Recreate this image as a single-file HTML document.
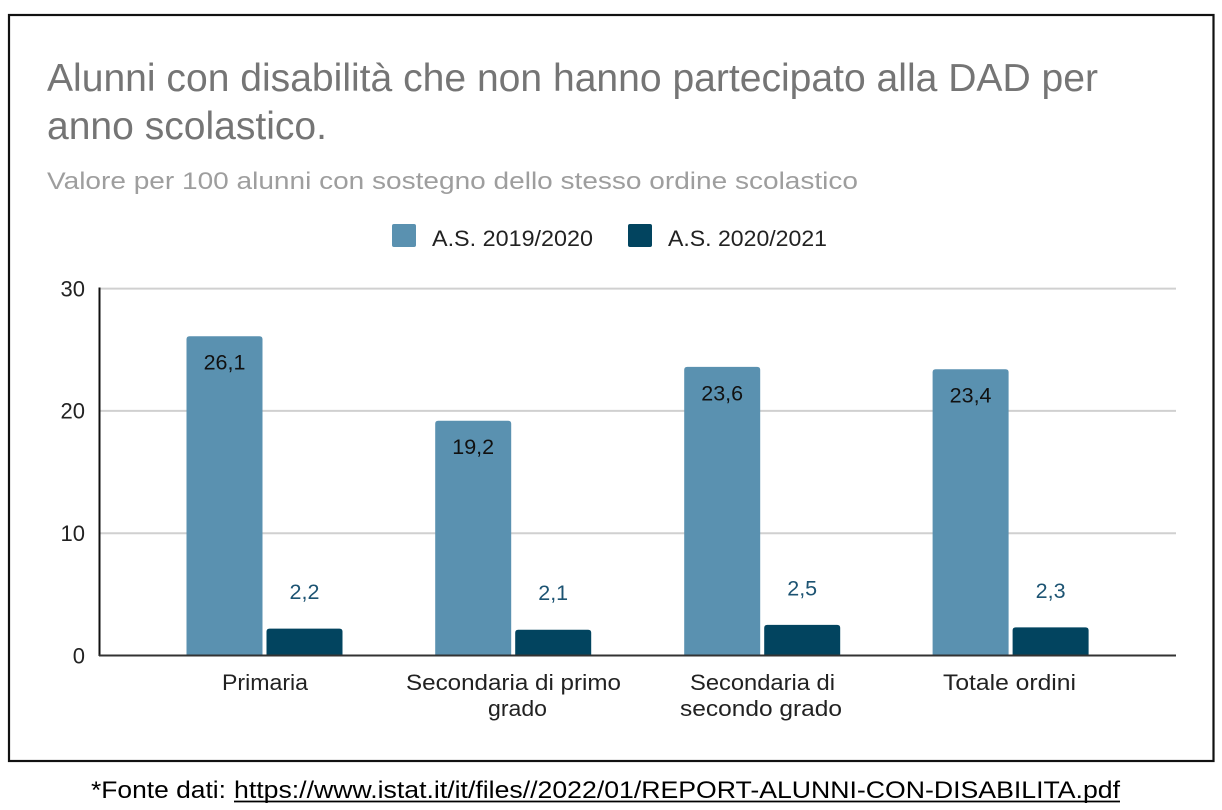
<!DOCTYPE html>
<html>
<head>
<meta charset="utf-8">
<style>
  html,body{margin:0;padding:0;background:#fff;}
  svg{display:block;}
  text{font-family:"Liberation Sans", Arial, sans-serif;}
</style>
</head>
<body>
<svg width="1222" height="810" viewBox="0 0 1222 810" xmlns="http://www.w3.org/2000/svg">
  <rect x="0" y="0" width="1222" height="810" fill="#ffffff"/>
  <!-- frame -->
  <rect x="9" y="15" width="1204.5" height="746" fill="none" stroke="#111" stroke-width="2.2"/>

  <!-- title -->
  <text x="47" y="91" font-size="39" fill="#757575" textLength="1051" lengthAdjust="spacingAndGlyphs">Alunni con disabilità che non hanno partecipato alla DAD per</text>
  <text x="47" y="139" font-size="39" fill="#757575" textLength="280" lengthAdjust="spacingAndGlyphs">anno scolastico.</text>
  <!-- subtitle -->
  <text x="47" y="189" font-size="24" fill="#9e9e9e" textLength="811" lengthAdjust="spacingAndGlyphs">Valore per 100 alunni con sostegno dello stesso ordine scolastico</text>

  <!-- legend -->
  <rect x="392" y="224" width="24" height="23" rx="2" fill="#5a91b0"/>
  <text x="432" y="246" font-size="22.5" fill="#222" textLength="161" lengthAdjust="spacingAndGlyphs">A.S. 2019/2020</text>
  <rect x="628" y="224" width="24" height="23" rx="2" fill="#02445f"/>
  <text x="668" y="246" font-size="22.5" fill="#222" textLength="159" lengthAdjust="spacingAndGlyphs">A.S. 2020/2021</text>

  <!-- gridlines -->
  <g stroke="#d0d0d0" stroke-width="2">
    <line x1="100" y1="288.6" x2="1176" y2="288.6"/>
    <line x1="100" y1="410.9" x2="1176" y2="410.9"/>
    <line x1="100" y1="533.2" x2="1176" y2="533.2"/>
  </g>

  <!-- y labels -->
  <g font-size="22" fill="#222" text-anchor="end">
    <text x="85" y="296.5">30</text>
    <text x="85" y="418.5">20</text>
    <text x="85" y="541">10</text>
    <text x="85" y="663.5">0</text>
  </g>

  <!-- bars -->
  <g fill="#5a91b0">
    <path d="M186.5,655.5 V339.3 Q186.5,336.3 189.5,336.3 H259.5 Q262.5,336.3 262.5,339.3 V655.5 Z"/>
    <path d="M435.2,655.5 V423.7 Q435.2,420.7 438.2,420.7 H508.2 Q511.2,420.7 511.2,423.7 V655.5 Z"/>
    <path d="M684.2,655.5 V369.9 Q684.2,366.9 687.2,366.9 H757.2 Q760.2,366.9 760.2,369.9 V655.5 Z"/>
    <path d="M932.6,655.5 V372.3 Q932.6,369.3 935.6,369.3 H1005.6 Q1008.6,369.3 1008.6,372.3 V655.5 Z"/>
  </g>
  <g fill="#02445f">
    <path d="M266.5,655.5 V631.6 Q266.5,628.6 269.5,628.6 H339.5 Q342.5,628.6 342.5,631.6 V655.5 Z"/>
    <path d="M515.2,655.5 V632.8 Q515.2,629.8 518.2,629.8 H588.2 Q591.2,629.8 591.2,632.8 V655.5 Z"/>
    <path d="M764.2,655.5 V627.9 Q764.2,624.9 767.2,624.9 H837.2 Q840.2,624.9 840.2,627.9 V655.5 Z"/>
    <path d="M1012.6,655.5 V630.4 Q1012.6,627.4 1015.6,627.4 H1085.6 Q1088.6,627.4 1088.6,630.4 V655.5 Z"/>
  </g>

  <!-- axes -->
  <line x1="99.5" y1="287.5" x2="99.5" y2="656" stroke="#111" stroke-width="2"/>
  <line x1="99" y1="655.5" x2="1176" y2="655.5" stroke="#333" stroke-width="2"/>

  <!-- data labels -->
  <g font-size="21.5" fill="#111" text-anchor="middle">
    <text x="224.5" y="369.5">26,1</text>
    <text x="473.2" y="454">19,2</text>
    <text x="722.2" y="400.5">23,6</text>
    <text x="970.6" y="402.5">23,4</text>
  </g>
  <g font-size="21.5" fill="#1c5372" text-anchor="middle">
    <text x="304.5" y="599">2,2</text>
    <text x="553.2" y="600">2,1</text>
    <text x="802.2" y="595.5">2,5</text>
    <text x="1050.6" y="598">2,3</text>
  </g>

  <!-- x labels -->
  <g font-size="22" fill="#222" text-anchor="middle">
    <text x="265" y="690" textLength="86" lengthAdjust="spacingAndGlyphs">Primaria</text>
    <text x="513.5" y="690" textLength="215" lengthAdjust="spacingAndGlyphs">Secondaria di primo</text>
    <text x="517.5" y="716" textLength="59" lengthAdjust="spacingAndGlyphs">grado</text>
    <text x="762.5" y="690" textLength="145" lengthAdjust="spacingAndGlyphs">Secondaria di</text>
    <text x="761" y="716" textLength="162" lengthAdjust="spacingAndGlyphs">secondo grado</text>
    <text x="1009.5" y="690" textLength="133" lengthAdjust="spacingAndGlyphs">Totale ordini</text>
  </g>

  <!-- footer -->
  <text x="91" y="798" font-size="24" fill="#000" textLength="135" lengthAdjust="spacingAndGlyphs">*Fonte dati:</text>
  <text x="234" y="798" font-size="24" fill="#000" textLength="886" lengthAdjust="spacingAndGlyphs">https://www.istat.it/it/files//2022/01/REPORT-ALUNNI-CON-DISABILITA.pdf</text>
  <line x1="234" y1="801.5" x2="1120" y2="801.5" stroke="#000" stroke-width="1.8"/>
</svg>
</body>
</html>
